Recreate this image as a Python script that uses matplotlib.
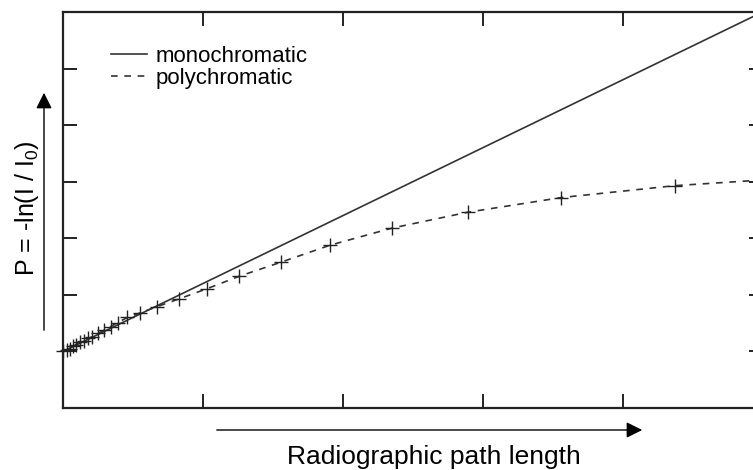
import matplotlib
matplotlib.use("Agg")
import matplotlib.pyplot as plt

plt.rcParams["font.family"] = ["Liberation Sans", "DejaVu Sans"]
plt.rcParams["mathtext.fontset"] = "custom"
plt.rcParams["mathtext.rm"] = "Liberation Sans"
plt.rcParams["mathtext.default"] = "regular"

# monochromatic: straight line (Beer-Lambert)
mono_x = [0.0, 4.93]
mono_y = [1.0, 6.92]

# polychromatic: measured points (beam hardening)
poly_x = [0.0, 0.03, 0.05, 0.07, 0.09, 0.12, 0.15, 0.18, 0.21, 0.25, 0.29, 0.34,
          0.39, 0.46, 0.55, 0.67, 0.83, 1.03, 1.26, 1.56, 1.91, 2.35, 2.89, 3.56, 4.37]
poly_y = [1.0, 1.02, 1.05, 1.09, 1.12, 1.16, 1.19, 1.23, 1.26, 1.32, 1.37, 1.44,
          1.51, 1.60, 1.68, 1.79, 1.93, 2.11, 2.33, 2.58, 2.88, 3.18, 3.46, 3.72, 3.93]
poly_end_x = 4.93
poly_end_y = 4.02

fig = plt.figure(figsize=(7.53, 4.70), dpi=100)
ax = fig.add_axes([63 / 753, 62 / 470, 700 / 753, 396 / 470])

ax.plot(mono_x, mono_y, color="#333333", lw=1.2, label="monochromatic")
ax.plot(poly_x + [poly_end_x], poly_y + [poly_end_y], color="#333333", lw=1.2,
        ls=(0, (4, 4)), label="polychromatic")
ax.plot(poly_x, poly_y, ls="none", marker="+", ms=10, mew=1.0, color="#222222",
        clip_on=False)

ax.set_xlim(0, 5)
ax.set_ylim(0, 7)
ax.set_xticks([1, 2, 3, 4, 5])
ax.set_yticks([1, 2, 3, 4, 5, 6])
ax.tick_params(direction="in", length=10, width=1.4, top=True, right=True,
               labelleft=False, labelbottom=False, color="#222222")
for s in ax.spines.values():
    s.set_linewidth(1.6)
    s.set_color("#222222")

ax.legend(loc="upper left", bbox_to_anchor=(0.04, 0.965), frameon=False,
          fontsize=16, handlelength=1.6, handletextpad=0.4, labelspacing=0.05)

# axis arrows and labels
ax.annotate("", xy=(645, 40), xytext=(214, 40), xycoords="figure pixels",
            textcoords="figure pixels",
            arrowprops=dict(arrowstyle="-|>", mutation_scale=24, color="black", lw=1))
ax.annotate("", xy=(44, 380), xytext=(44, 137), xycoords="figure pixels",
            textcoords="figure pixels",
            arrowprops=dict(arrowstyle="-|>", mutation_scale=24, color="black", lw=1))
fig.text(434 / 753, 13 / 470, "Radiographic path length", fontsize=19,
         ha="center", va="center")
fig.text(27 / 753, 262 / 470, r"P = -ln(I / I$_0$)", fontsize=18, rotation=90,
         ha="center", va="center")

fig.savefig("out.png", dpi=100)
